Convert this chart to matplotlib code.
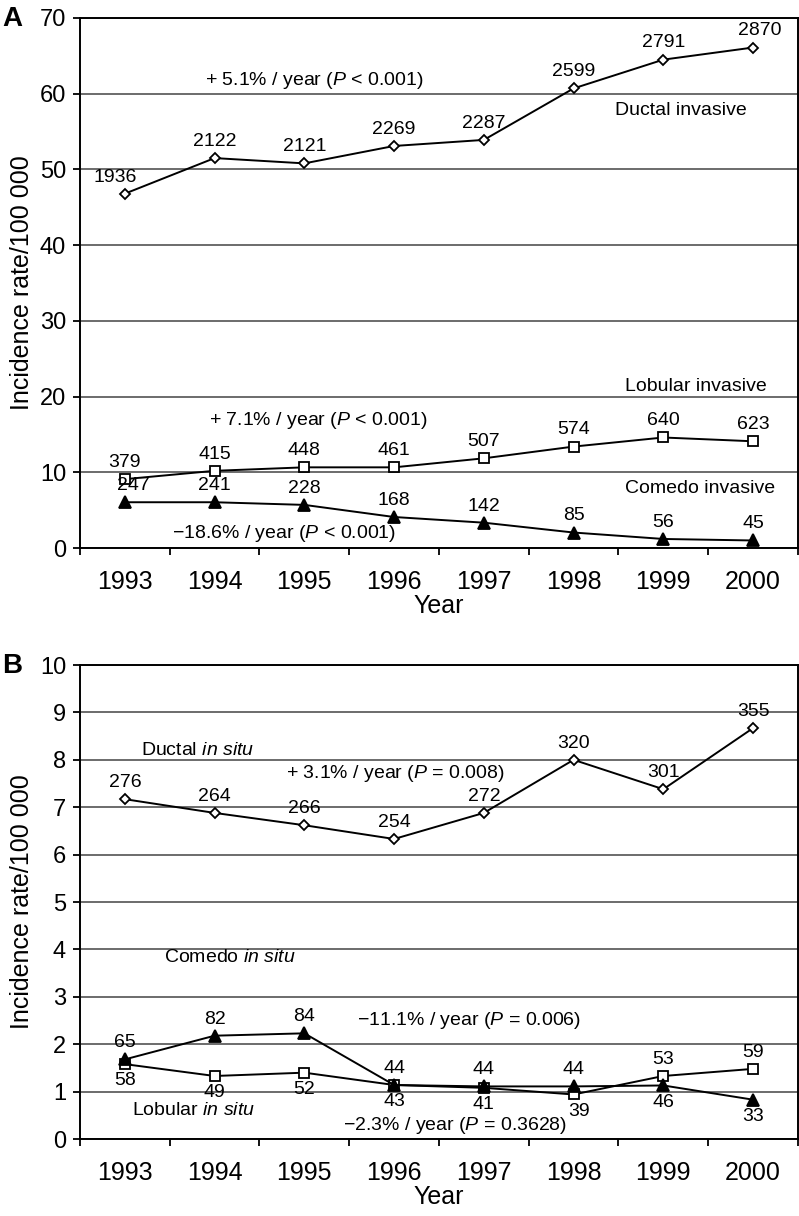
import numpy as np
import matplotlib
matplotlib.use("Agg")
import matplotlib.pyplot as plt

# =========================================================
# DATA
# =========================================================

years = ["1993", "1994", "1995", "1996", "1997", "1998", "1999", "2000"]

# panel A - invasive
ductal_inv = [46.8, 51.5, 50.8, 53.1, 53.9, 60.7, 64.5, 66.1]
ductal_inv_n = [1936, 2122, 2121, 2269, 2287, 2599, 2791, 2870]

lobular_inv = [9.1, 10.2, 10.66, 10.66, 11.85, 13.4, 14.6, 14.1]
lobular_inv_n = [379, 415, 448, 461, 507, 574, 640, 623]

comedo_inv = [6.05, 6.05, 5.7, 4.1, 3.35, 2.05, 1.2, 1.0]
comedo_inv_n = [247, 241, 228, 168, 142, 85, 56, 45]

# panel B - in situ
ductal_is = [7.17, 6.88, 6.62, 6.33, 6.88, 8.0, 7.38, 8.67]
ductal_is_n = [276, 264, 266, 254, 272, 320, 301, 355]

lobular_is = [1.58, 1.33, 1.40, 1.14, 1.08, 0.94, 1.33, 1.48]
lobular_is_n = [58, 49, 52, 43, 41, 39, 53, 59]

comedo_is = [1.68, 2.18, 2.23, 1.14, 1.11, 1.11, 1.13, 0.83]
comedo_is_n = [65, 82, 84, 44, 44, 44, 46, 33]

# =========================================================
# STYLE
# =========================================================

plt.rcParams["font.family"] = ["Liberation Sans", "DejaVu Sans"]
plt.rcParams["mathtext.fontset"] = "custom"
plt.rcParams["mathtext.rm"] = "Liberation Sans"
plt.rcParams["mathtext.it"] = "Liberation Sans:italic"

XTICK_FS = 18
YTICK_FS = 17
LABEL_FS = 14

fig = plt.figure(figsize=(7.99, 12.16), dpi=100)

axA = fig.add_axes([0.1001, 0.5493, 0.8986, 0.4359])
axB = fig.add_axes([0.1001, 0.0633, 0.8986, 0.3898])

x = np.arange(len(years))


def setup_axis(ax, ymax):

    ax.set_xlim(-0.5, len(years) - 0.5)
    ax.set_ylim(0, ymax)

    # ticks between the categories, labels in the middle
    ax.set_xticks(np.arange(-0.5, len(years), 1.0))
    ax.set_xticklabels([])
    ax.set_xticks(x, minor=True)
    ax.set_xticklabels(years, minor=True, fontsize=XTICK_FS)
    ax.tick_params(axis="x", which="major", direction="out", length=5, width=1.3)
    ax.tick_params(axis="x", which="minor", length=0, pad=16)
    ax.tick_params(axis="y", direction="out", length=5, width=1.3,
                   labelsize=YTICK_FS, pad=5)

    ax.grid(axis="y", color="#444444", linewidth=1.1)
    ax.set_axisbelow(True)

    for sp in ax.spines.values():
        sp.set_linewidth(1.4)
        sp.set_color("black")

    ax.set_xlabel("Year", fontsize=XTICK_FS, labelpad=0)
    ax.set_ylabel("Incidence rate/100 000", fontsize=XTICK_FS, labelpad=4)


def draw_series(ax, values, marker, face, size):

    ax.plot(x, values, color="black", linewidth=1.4, marker=marker,
            markersize=size, markerfacecolor=face,
            markeredgecolor="black", markeredgewidth=1.3, zorder=3)


def put_labels(ax, values, counts, where, dx=None):

    if dx is None:
        dx = [0] * len(values)

    for i, (v, n) in enumerate(zip(values, counts)):

        dy = 12 if where[i] == "up" else -12

        ax.annotate(str(n), (x[i], v), xytext=(dx[i], dy),
                    textcoords="offset points", ha="center", va="center",
                    fontsize=LABEL_FS, zorder=4)


# =========================================================
# PANEL A
# =========================================================

setup_axis(axA, 70)
axA.set_yticks(np.arange(0, 71, 10))

draw_series(axA, ductal_inv, "D", "white", 5)
draw_series(axA, lobular_inv, "s", "white", 7)
draw_series(axA, comedo_inv, "^", "black", 8)

put_labels(axA, ductal_inv, ductal_inv_n, ["up"] * 8,
           dx=[-7, 0, 0, 0, 0, 0, 0, 5])
put_labels(axA, lobular_inv, lobular_inv_n, ["up"] * 8)
put_labels(axA, comedo_inv, comedo_inv_n, ["up"] * 8,
           dx=[6, 0, 0, 0, 0, 0, 0, 0])

axA.text(2.11, 61.8, "+ 5.1% / year ($\\mathit{P}$ < 0.001)",
         fontsize=LABEL_FS, ha="center", va="center")
axA.text(6.19, 57.8, "Ductal invasive",
         fontsize=LABEL_FS, ha="center", va="center")
axA.text(6.36, 21.3, "Lobular invasive",
         fontsize=LABEL_FS, ha="center", va="center")
axA.text(2.16, 16.9, "+ 7.1% / year ($\\mathit{P}$ < 0.001)",
         fontsize=LABEL_FS, ha="center", va="center")
axA.text(6.41, 7.9, "Comedo invasive",
         fontsize=LABEL_FS, ha="center", va="center")
axA.text(1.77, 1.94, "\u221218.6% / year ($\\mathit{P}$ < 0.001)",
         fontsize=LABEL_FS, ha="center", va="center")

fig.text(0.003, 0.984, "A", fontsize=20, fontweight="bold",
         ha="left", va="center")

# =========================================================
# PANEL B
# =========================================================

setup_axis(axB, 10)
axB.set_yticks(np.arange(0, 11, 1))

draw_series(axB, ductal_is, "D", "white", 5)
draw_series(axB, lobular_is, "s", "white", 7)
draw_series(axB, comedo_is, "^", "black", 8)

put_labels(axB, ductal_is, ductal_is_n, ["up"] * 8)
put_labels(axB, lobular_is, lobular_is_n,
           ["down"] * 6 + ["up", "up"], dx=[0, 0, 0, 0, 0, 4, 0, 0])
put_labels(axB, comedo_is, comedo_is_n,
           ["up"] * 6 + ["down", "down"])

axB.text(0.81, 8.2, "Ductal $\\mathit{in\\ situ}$",
         fontsize=LABEL_FS, ha="center", va="center")
axB.text(3.01, 7.72, "+ 3.1% / year ($\\mathit{P}$ = 0.008)",
         fontsize=LABEL_FS, ha="center", va="center")
axB.text(1.17, 3.82, "Comedo $\\mathit{in\\ situ}$",
         fontsize=LABEL_FS, ha="center", va="center")
axB.text(3.83, 2.51, "\u221211.1% / year ($\\mathit{P}$ = 0.006)",
         fontsize=LABEL_FS, ha="center", va="center")
axB.text(0.77, 0.6, "Lobular $\\mathit{in\\ situ}$",
         fontsize=LABEL_FS, ha="center", va="center")
axB.text(3.68, 0.29, "\u22122.3% / year ($\\mathit{P}$ = 0.3628)",
         fontsize=LABEL_FS, ha="center", va="center")

fig.text(0.003, 0.452, "B", fontsize=20, fontweight="bold",
         ha="left", va="center")

fig.savefig("out.png", dpi=100)
